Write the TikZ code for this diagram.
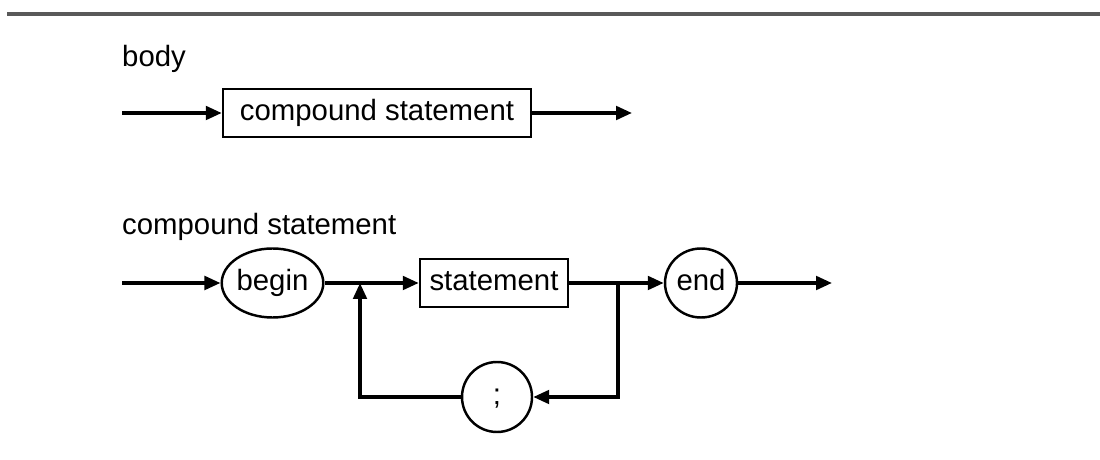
\documentclass[tikz,border=0pt]{standalone}
\usepackage{fontspec}
\setmainfont{Liberation Sans}
\usetikzlibrary{arrows.meta,shapes.geometric}

\begin{document}
\begin{tikzpicture}[font=\fontsize{16.7}{20}\selectfont,>={Triangle[length=0.32cm,width=0.27cm]},x=1cm,y=1cm]
    \tikzset{
        nonterminal/.style={
            draw,
            line width=1.4pt,
            inner sep=0pt,
            text height=12pt,
            text depth=3.5pt,
            minimum height=0.97cm
        },
        terminal/.style={
            draw,
            ellipse,
            line width=1.4pt,
            inner sep=0pt,
            text height=12pt,
            text depth=3.5pt,
            minimum height=1.38cm
        },
        label/.style={anchor=base west},
        link/.style={->,line width=2pt}
    }
    \useasboundingbox (0,0) rectangle (22,9.18);

    \coordinate (rulel) at (0.14,8.90);
    \coordinate (ruler) at (22,8.90);
    \draw[line width=2.6pt,black!65] (rulel) -- (ruler);

    % body
    \node[label] (bodylbl) at (2.32,7.84) {body};
    \coordinate (bodyin) at (2.44,6.92);
    \coordinate (bodyout) at (12.64,6.92);
    \node[nonterminal,minimum width=6.16cm] (compound) at (7.54,6.92)
        {compound statement};
    \draw[link] (bodyin) -- (compound.west);
    \draw[link] (compound.east) -- (bodyout);

    % compound statement
    \node[label] (complbl) at (2.32,4.48) {compound statement};
    \coordinate (compin) at (2.44,3.52);
    \coordinate (compout) at (16.64,3.52);
    \coordinate (jl) at (7.20,3.52);
    \coordinate (jr) at (12.36,3.52);

    \node[terminal,minimum width=2.02cm] (begin) at (5.45,3.52) {begin};
    \node[nonterminal,minimum width=2.96cm] (stmt) at (9.88,3.52) {statement};
    \node[terminal,minimum width=1.44cm] (end) at (14.02,3.52) {end};
    \node[terminal,minimum width=1.40cm,minimum height=1.40cm] (semi) at (9.94,1.24) {;};

    \draw[link] (compin) -- (begin.west);
    \draw[link] (begin.east) -- (stmt.west);
    \draw[link] (stmt.east) -- (end.west);
    \draw[link] (end.east) -- (compout);
    \draw[link] (jr) |- (semi.east);
    \draw[link] (semi.west) -| (jl);
\end{tikzpicture}
\end{document}
